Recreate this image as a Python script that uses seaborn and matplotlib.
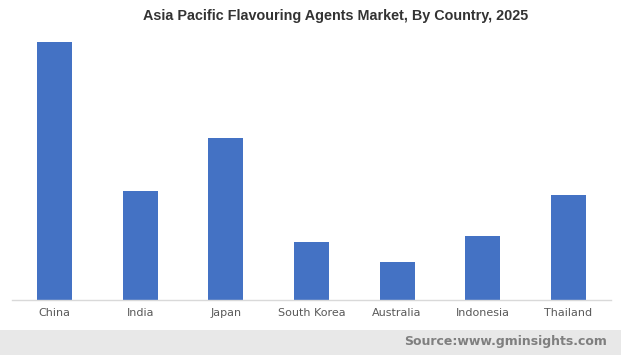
import matplotlib
matplotlib.use("Agg")
import matplotlib.pyplot as plt
import seaborn as sns
import pandas as pd
from matplotlib.patches import Rectangle

countries = ["China", "India", "Japan", "South Korea", "Australia", "Indonesia", "Thailand"]
values = [258, 109, 162, 58, 38, 64, 105]

df = pd.DataFrame({"country": countries, "value": values})

sns.set_theme(style="white")
plt.rcParams['font.family'] = ['DejaVu Sans']

W, H = 621, 355
fig = plt.figure(figsize=(W / 100, H / 100), dpi=100)
ax = fig.add_axes([12 / W, (H - 300) / H, 599 / W, (300 - 42) / H])

sns.barplot(data=df, x="country", y="value", color="#4472C4", width=0.41,
            saturation=1, linewidth=0, ax=ax)
ax.set_ylim(0, 258)
ax.set_xlim(-0.5, 6.5)
ax.set_xlabel("")
ax.set_ylabel("")
ax.set_yticks([])
for s in ["top", "right", "left"]:
    ax.spines[s].set_visible(False)
ax.spines["bottom"].set_color("#d9d9d9")
ax.spines["bottom"].set_linewidth(1)
ax.tick_params(axis="x", length=0, pad=6, labelsize=8, labelcolor="#595959")

fig.text(336 / W, 1 - 16 / H, "Asia Pacific Flavouring Agents Market, By Country, 2025",
         ha="center", va="center", fontsize=10.4, fontweight="bold", color="#333333",
         family=["Liberation Sans", "DejaVu Sans"])

fig.patches.append(Rectangle((0, 0), 1, 25 / H, transform=fig.transFigure,
                             facecolor="#e8e8e8", edgecolor="none", zorder=0))
fig.text(607 / W, 1 - 342 / H, "Source:www.gminsights.com", ha="right", va="center",
         fontsize=9, fontweight="bold", color="#7f7f7f")

fig.savefig("out.png", dpi=100)
